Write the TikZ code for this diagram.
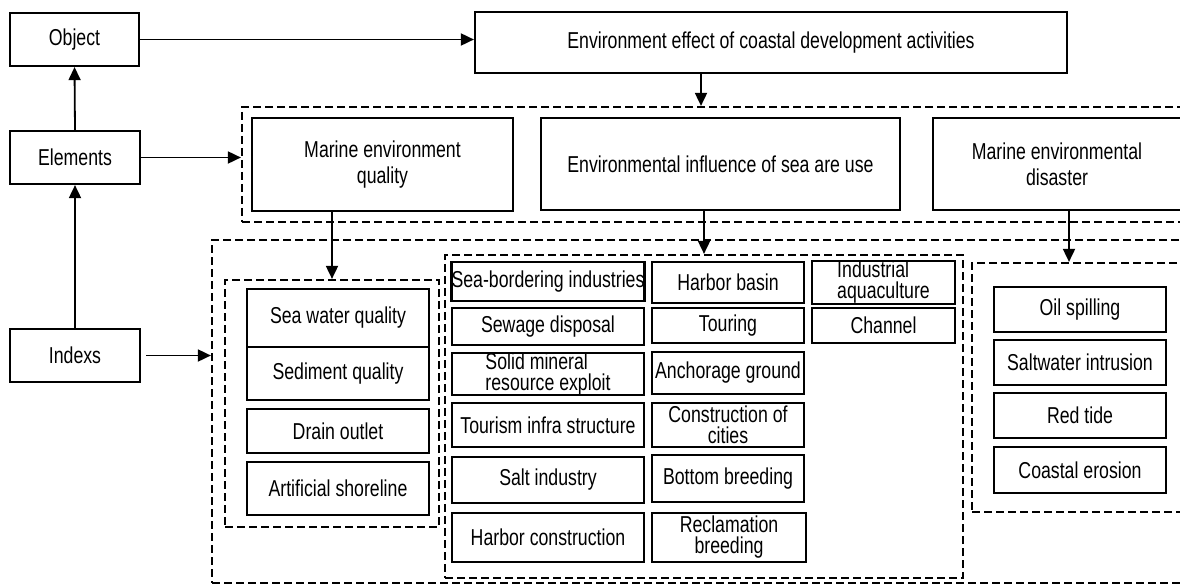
\documentclass[tikz,border=0pt]{standalone}
\usepackage{fontspec}
\setmainfont[FakeStretch=0.77]{Liberation Sans}
\usetikzlibrary{arrows.meta, calc}

\begin{document}
\begin{tikzpicture}[
    x=1pt, y=-1pt,
    lvl/.style={draw, line width=2.2pt, align=center, inner sep=0pt,
                font=\fontsize{23}{25}\selectfont},
    head/.style={draw, line width=2.2pt, align=center, inner sep=0pt,
                 font=\fontsize{23}{26}\selectfont},
    item/.style={draw, line width=2.2pt, align=center, inner sep=0pt,
                 font=\fontsize{23}{21}\selectfont},
    zone/.style={draw, line width=2.2pt, dash pattern=on 8pt off 4pt,
                 inner sep=0pt},
    flow/.style={-{Triangle[length=13pt,width=12pt]}, line width=1.8pt},
]
\useasboundingbox (0,0) rectangle (1180,586);
\clip (0,0) rectangle (1180,586);
% levels on the left
\node[lvl, minimum width=129pt, minimum height=53pt] (obj)  at (74.5,39.5) {Object};
\node[lvl, minimum width=130pt, minimum height=53pt] (elem) at (75,157.5) {Elements};
\node[lvl, minimum width=130pt, minimum height=53pt] (idx)  at (75,355.5) {Indexs};
\node[head, minimum width=592pt, minimum height=61pt] (env) at (771,42.5)
   {Environment effect of coastal development activities};
% dashed groups
\node[zone, minimum width=948pt, minimum height=115pt] (fe) at (716,164.5) {};
\node[zone, minimum width=978pt, minimum height=343pt] (fi) at (701,411.5) {};
\node[zone, minimum width=214pt, minimum height=247pt] (fq) at (332,403.5) {};
\node[zone, minimum width=518pt, minimum height=323pt] (fu) at (704,416.5) {};
\node[zone, minimum width=218pt, minimum height=249pt] (fd) at (1081,387.5) {};
% elements
\node[head, minimum width=261pt, minimum height=93pt] (meq) at (382.5,164.5)
   {Marine environment\\quality};
\node[head, minimum width=359pt, minimum height=92pt] (eis) at (720.5,164)
   {Environmental influence of sea are use};
\node[head, minimum width=248pt, minimum height=92pt] (med) at (1057,164)
   {Marine environmental\\disaster};
% quality indexs
\node[item, minimum width=182pt, minimum height=58pt] (swq) at (338,318) {Sea water quality};
\node[item, minimum width=182pt, minimum height=53pt] (sdq) at (338,373.5) {Sediment quality};
\node[item, minimum width=182pt, minimum height=44pt] (dro) at (338,431) {Drain outlet};
\node[item, minimum width=182pt, minimum height=53pt] (ars) at (338,488.5) {Artificial shoreline};
% sea area use indexs
\node[item, minimum width=192pt, minimum height=39pt] (sbi) at (548,281.5) {Sea-bordering industries};
\node[item, minimum width=192pt, minimum height=37pt] (sew) at (548,326.5) {Sewage disposal};
\node[item, minimum width=192pt, minimum height=42pt, align=left] (smr) at (548,374)
   {Solid mineral\\resource exploit};
\node[item, minimum width=192pt, minimum height=44pt] (tis) at (548,425) {Tourism infra structure};
\node[item, minimum width=192pt, minimum height=46pt] (sal) at (548,480) {Salt industry};
\node[item, minimum width=192pt, minimum height=49pt] (hco) at (548,537.5) {Harbor construction};
\node[item, minimum width=152pt, minimum height=41pt] (hba) at (728,282.5) {Harbor basin};
\node[item, minimum width=152pt, minimum height=35pt] (tou) at (728,325.5) {Touring};
\node[item, minimum width=152pt, minimum height=42pt] (anc) at (728,373) {Anchorage ground};
\node[item, minimum width=152pt, minimum height=44pt] (coc) at (728,425) {Construction of\\cities};
\node[item, minimum width=152pt, minimum height=47pt] (bob) at (728,478.5) {Bottom breeding};
\node[item, minimum width=154pt, minimum height=49pt] (reb) at (729,537.5) {Reclamation\\breeding};
\node[item, minimum width=143pt, minimum height=41pt, align=left] (iaq) at (883.5,282.5)
   {Industrial\\aquaculture};
\node[item, minimum width=143pt, minimum height=35pt] (cha) at (883.5,325.5) {Channel};
% disaster indexs
\node[item, minimum width=172pt, minimum height=45pt] (oil) at (1080,309.5) {Oil spilling};
\node[item, minimum width=172pt, minimum height=45pt] (swi) at (1080,362.5) {Saltwater intrusion};
\node[item, minimum width=172pt, minimum height=45pt] (red) at (1080,415.5) {Red tide};
\node[item, minimum width=172pt, minimum height=46pt] (coe) at (1080,470) {Coastal erosion};
% arrows
\draw[flow] (obj.east) -- (obj.east -| env.west);
\draw[flow] (elem.north) -- (obj.south);
\draw[flow] (idx.north) -- (elem.south);
\draw[flow] (elem.east) -- (elem.east -| fe.west);
\draw[flow] ([xshift=5pt]idx.east) -- (idx.east -| fi.west);
\draw[flow] ([xshift=-70pt]env.south) -- ([xshift=-70pt]env.south |- fe.north);
\draw[flow] (meq.south -| fq.north) -- (fq.north);
\draw[flow] (eis.south -| fu.north) -- (fu.north);
\draw[flow] ([xshift=12pt]med.south) -- ([xshift=12pt]med.south |- fd.north);
\end{tikzpicture}
\end{document}
